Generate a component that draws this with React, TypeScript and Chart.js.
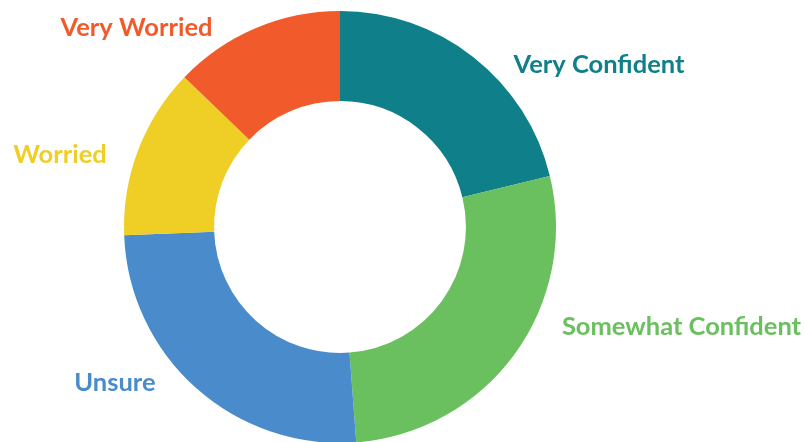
import React, { useEffect, useRef } from "react";
import { Chart, registerables } from "chart.js";

Chart.register(...registerables);

const categories = ["Very Confident", "Somewhat Confident", "Unsure", "Worried", "Very Worried"];
const shares = [21.2, 27.6, 25.6, 12.8, 12.8];
const colors = ["#0f7f8a", "#6abf5e", "#4a8ccb", "#efce26", "#f15a2b"];

// label centre offsets from the doughnut centre, in units of the outer radius
const labelOffsets: [number, number][] = [
  [1.199, -0.75],
  [1.581, 0.463],
  [-1.042, 0.722],
  [-1.296, -0.333],
  [-0.942, -0.921],
];

const outsideLabels = {
  id: "outsideLabels",
  afterDatasetsDraw(chart: any) {
    const meta = chart.getDatasetMeta(0);
    const arc0 = meta.data[0];
    if (!arc0) return;
    const { x, y, outerRadius } = arc0.getProps(["x", "y", "outerRadius"], true);
    const ctx = chart.ctx;
    ctx.save();
    ctx.font = "bold 25.5px Lato";
    ctx.textAlign = "center";
    ctx.textBaseline = "middle";
    chart.data.labels.forEach((label: string, i: number) => {
      const [dx, dy] = labelOffsets[i];
      ctx.fillStyle = colors[i];
      ctx.fillText(label, x + dx * outerRadius, y + dy * outerRadius);
    });
    ctx.restore();
  },
};

export default function App() {
  const ref = useRef<HTMLCanvasElement>(null);
  useEffect(() => {
    document.body.style.margin = "0";
    const chart = new Chart(ref.current!, {
      type: "doughnut",
      data: {
        labels: categories,
        datasets: [
          {
            data: shares,
            backgroundColor: colors,
            borderWidth: 0,
            clip: false as any,
          },
        ],
      },
      options: {
        responsive: false,
        animation: false,
        radius: 216,
        cutout: "58.3%",
        layout: { padding: { left: 0, right: 125, top: 12, bottom: 0 } },
        plugins: { legend: { display: false }, tooltip: { enabled: false } },
      },
      plugins: [outsideLabels],
    });
    return () => chart.destroy();
  }, []);
  return (
    <div style={{ position: "absolute", left: 0, top: 0, width: 805, height: 442 }}>
      <canvas ref={ref} width={805} height={442} />
    </div>
  );
}
